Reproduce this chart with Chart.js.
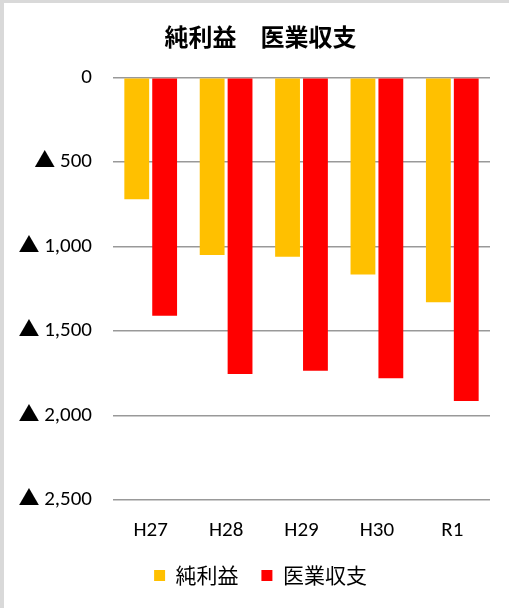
<!DOCTYPE html>
<html>
<head>
<meta charset="utf-8">
<script src="https://cdn.jsdelivr.net/npm/chart.js@4/dist/chart.umd.min.js"></script>
<style>
  html, body { margin: 0; padding: 0; background: #d9d9d9; }
  #wrap { position: absolute; left: 4px; top: 3px; width: 505px; height: 605px; background: #ffffff; }
</style>
</head>
<body>
<div id="wrap"><canvas id="c" width="505" height="605"></canvas></div>
<script>
const categories = ['H27', 'H28', 'H29', 'H30', 'R1'];
const netProfit = [720, 1050, 1060, 1165, 1330];
const medicalBalance = [1410, 1755, 1735, 1780, 1915];
const tickValues = [0, 500, 1000, 1500, 2000, 2500];
const seriesNames = ['純利益', '医業収支'];
const titleText = '純利益　医業収支';

const FONT = "Calibri, Carlito, 'Noto Sans CJK JP', sans-serif";

new Chart(document.getElementById('c'), {
  type: 'bar',
  data: {
    labels: categories,
    datasets: [
      { label: seriesNames[0], data: netProfit, backgroundColor: '#FFC000', barPercentage: 0.89, categoryPercentage: 0.74 },
      { label: seriesNames[1], data: medicalBalance, backgroundColor: '#FF0000', barPercentage: 0.89, categoryPercentage: 0.74 }
    ]
  },
  options: {
    responsive: false,
    animation: false,
    layout: { padding: { left: 15, right: 7, top: 4, bottom: 12 } },
    plugins: {
      title: {
        display: true,
        text: titleText,
        color: '#000',
        font: { family: "'Noto Sans CJK JP', sans-serif", size: 24, weight: 'bold' },
        padding: { top: 15, bottom: 27 }
      },
      legend: {
        position: 'bottom',
        labels: {
          color: '#000',
          boxWidth: 11,
          boxHeight: 11,
          padding: 4,
          font: { family: "'Noto Sans CJK JP', sans-serif", size: 21 },
          generateLabels: (chart) => {
            const items = Chart.defaults.plugins.legend.labels.generateLabels(chart);
            items.forEach((it, i) => { if (i < items.length - 1) it.text = it.text + '    '; });
            return items;
          }
        }
      },
      tooltip: { enabled: false }
    },
    scales: {
      x: {
        grid: { display: false, drawTicks: false },
        border: { display: false },
        ticks: { color: '#000', padding: 18, font: { family: FONT, size: 21 } }
      },
      y: {
        reverse: true,
        min: tickValues[0],
        max: tickValues[tickValues.length - 1],
        afterBuildTicks: (axis) => { axis.ticks = tickValues.map(v => ({ value: v })); },
        afterFit: (axis) => { axis.width = 94; },
        grid: { color: '#999999', lineWidth: 1.5, drawTicks: false },
        border: { display: false },
        ticks: {
          color: '#000',
          padding: 21,
          font: { family: FONT, size: 21 },
          callback: (v) => v === 0 ? '0' : '▲ ' + v.toLocaleString('en-US')
        }
      },
      yRight: {
        type: 'linear',
        position: 'right',
        display: true,
        grid: { display: false, drawTicks: false },
        border: { display: false },
        ticks: { display: false },
        afterFit: (axis) => { axis.width = 12; }
      }
    }
  }
});
</script>
</body>
</html>
